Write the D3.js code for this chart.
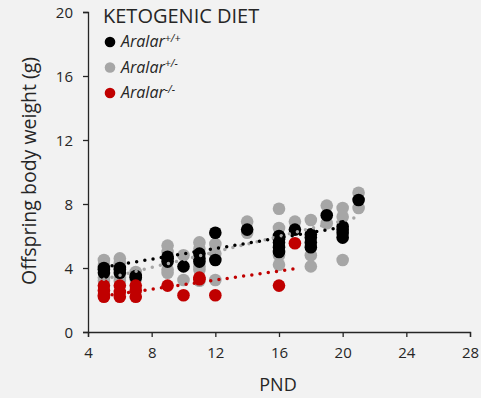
<!DOCTYPE html>
<html>
<head>
<meta charset="utf-8">
<script src="https://cdn.jsdelivr.net/npm/d3@7"></script>
<style>
  body { margin: 0; background: #f2f2f2; }
  svg { display: block; font-family: "Open Sans", "Noto Sans", sans-serif; }
</style>
</head>
<body>
<div id="chart"></div>
<script>
// postnatal day (PND) and body weight (g), one entry per pup per day
const wtDays = [5,5,5, 6,6,6, 7,7, 9,9,9, 10, 11,11,11, 12,12, 14, 16,16,16,16,16, 17, 18,18,18,18, 19, 20,20,20,20, 21];
const wtWeights = [3.7,3.9,4.0, 3.7,3.9,4.0, 3.4,3.5, 4.4,4.6,4.7, 4.1, 4.4,4.6,4.9, 4.5,6.2, 6.4, 5.0,5.3,5.6,5.8,6.0, 6.4, 5.3,5.6,5.9,6.1, 7.3, 5.9,6.2,6.4,6.6, 8.25];

const hetDays = [5,5,5,5, 6,6,6,6, 7,7, 9,9,9,9, 10,10, 11,11,11,11,11, 12,12,12, 14,14, 16,16,16,16,16, 17, 18,18,18, 19,19, 20,20,20,20, 21,21];
const hetWeights = [4.5,4.2,3.4,3.2, 4.6,4.3,3.4,3.2, 3.75,3.3, 5.4,5.0,3.9,3.7, 4.8,3.25, 5.6,5.2,4.1,3.9,3.2, 5.5,4.9,3.25, 6.9,6.2, 7.7,6.5,5.9,4.8,4.2, 6.9, 7.0,4.8,4.1, 7.9,6.8, 7.75,7.2,6.0,4.5, 8.7,7.75];

const koDays = [5,5,5,5, 6,6,6, 7,7,7, 9, 10, 11,11, 12, 16, 17];
const koWeights = [2.9,2.6,2.3,2.2, 2.9,2.5,2.2, 2.9,2.6,2.2, 2.9, 2.3, 3.4,3.3, 2.3, 2.9, 5.55];

// linear trend lines, end points: [day, weight]
const wtTrend = [[5, 4.05], [20, 6.55]];
const hetTrend = [[5, 3.3], [21, 7.2]];
const koTrend = [[5, 2.25], [17, 3.95]];

const xTicks = [4, 8, 12, 16, 20, 24, 28];
const yTicks = [0, 4, 8, 12, 16, 20];

const series = [
  { name: "+/-", color: "#a6a6a6", days: hetDays, weights: hetWeights, trend: hetTrend },
  { name: "+/+", color: "#000000", days: wtDays, weights: wtWeights, trend: wtTrend },
  { name: "-/-", color: "#c00000", days: koDays, weights: koWeights, trend: koTrend }
];
const legendOrder = ["+/+", "+/-", "-/-"];

const width = 481, height = 398;

const x = d3.scaleLinear().domain([4, 28]).range([88, 470]);
const y = d3.scaleLinear().domain([0, 20]).range([332, 12]);

const svg = d3.select("#chart")
  .append("svg")
  .attr("width", width)
  .attr("height", height);

svg.append("rect")
  .attr("width", width)
  .attr("height", height)
  .attr("fill", "#f2f2f2");

// axes
const xAxis = svg.append("g")
  .attr("transform", `translate(0,${y(0)})`)
  .call(d3.axisBottom(x).tickValues(xTicks).tickSize(5).tickPadding(6).tickSizeOuter(5));
const yAxis = svg.append("g")
  .attr("transform", `translate(${x(4)},0)`)
  .call(d3.axisLeft(y).tickValues(yTicks).tickSize(5).tickPadding(10).tickSizeOuter(5));

[xAxis, yAxis].forEach(g => {
  g.select(".domain").attr("stroke", "#262626").attr("stroke-width", 1.3);
  g.selectAll(".tick line").attr("stroke", "#262626").attr("stroke-width", 1.3);
  g.selectAll(".tick text")
    .attr("fill", "#262626")
    .style("font-size", "15px")
    .style("font-family", "'Open Sans', sans-serif");
});
xAxis.selectAll(".tick text").attr("dy", "1em");
yAxis.selectAll(".tick text").attr("dy", "0.35em");

svg.append("text")
  .attr("x", 278)
  .attr("y", 391)
  .attr("text-anchor", "middle")
  .attr("fill", "#262626")
  .style("font-size", "18px")
  .text("PND");

svg.append("text")
  .attr("transform", `translate(36,171) rotate(-90)`)
  .attr("text-anchor", "middle")
  .attr("fill", "#262626")
  .style("font-size", "19.5px")
  .text("Offspring body weight (g)");

// points
series.forEach(s => {
  svg.append("g")
    .selectAll("circle")
    .data(s.days.map((d, i) => ({ x: d, y: s.weights[i] })))
    .join("circle")
    .attr("cx", d => x(d.x))
    .attr("cy", d => y(d.y))
    .attr("r", 6.3)
    .attr("fill", s.color);
});

const line = d3.line().x(d => x(d[0])).y(d => y(d[1]));
series.forEach(s => {
  svg.append("path")
    .datum(s.trend)
    .attr("d", line)
    .attr("fill", "none")
    .attr("stroke", s.color)
    .attr("stroke-width", 3.5)
    .attr("stroke-linecap", "round")
    .attr("stroke-dasharray", "0,8.3");
});

// legend
svg.append("text")
  .attr("x", 103)
  .attr("y", 23)
  .attr("fill", "#262626")
  .style("font-size", "20px")
  .text("KETOGENIC DIET");

const legend = svg.append("g")
  .selectAll("g")
  .data(legendOrder.map(k => series.find(s => s.name === k)))
  .join("g")
  .attr("transform", (d, i) => `translate(0,${42 + i * 25.5})`);

legend.append("circle")
  .attr("cx", 110)
  .attr("cy", 0)
  .attr("r", 5.3)
  .attr("fill", d => d.color);

const lt = legend.append("text")
  .attr("x", 121)
  .attr("y", 5)
  .attr("fill", "#262626")
  .style("font-size", "16px");
lt.append("tspan")
  .style("font-style", "italic")
  .text("Aralar");
lt.append("tspan")
  .attr("dy", -5.5)
  .style("font-size", "10.5px")
  .style("font-style", "italic")
  .text(d => d.name);
</script>
</body>
</html>
